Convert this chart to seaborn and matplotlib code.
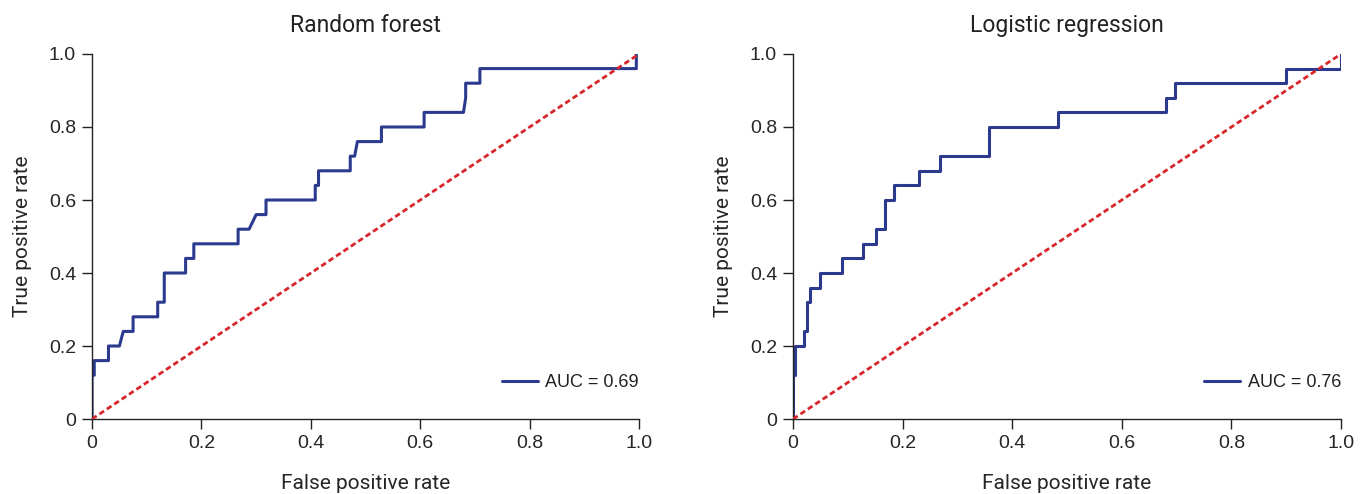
import numpy as np
import pandas as pd
import matplotlib
matplotlib.use("Agg")
import matplotlib.pyplot as plt
import seaborn as sns

# ROC curves
rf_fpr = [0, 0, 0.004, 0.004, 0.030, 0.030, 0.050, 0.057, 0.075, 0.075, 0.120, 0.120,
          0.132, 0.132, 0.171, 0.171, 0.186, 0.186, 0.267, 0.267, 0.287, 0.300, 0.318,
          0.318, 0.408, 0.408, 0.414, 0.414, 0.472, 0.472, 0.480, 0.485, 0.529, 0.529,
          0.607, 0.607, 0.679, 0.683, 0.683, 0.709, 0.709, 0.995, 0.995]
rf_tpr = [0, 0.12, 0.12, 0.16, 0.16, 0.20, 0.20, 0.24, 0.24, 0.28, 0.28, 0.32,
          0.32, 0.40, 0.40, 0.44, 0.44, 0.48, 0.48, 0.52, 0.52, 0.56, 0.56,
          0.60, 0.60, 0.64, 0.64, 0.68, 0.68, 0.72, 0.72, 0.76, 0.76, 0.80,
          0.80, 0.84, 0.84, 0.88, 0.92, 0.92, 0.96, 0.96, 1.0]

lr_fpr = [0, 0, 0.004, 0.004, 0.020, 0.020, 0.025, 0.025, 0.031, 0.031, 0.049, 0.049,
          0.089, 0.089, 0.127, 0.127, 0.151, 0.151, 0.167, 0.167, 0.185, 0.185,
          0.229, 0.229, 0.269, 0.269, 0.358, 0.358, 0.484, 0.484, 0.681, 0.681,
          0.697, 0.697, 0.900, 0.900, 1.0, 1.0]
lr_tpr = [0, 0.12, 0.12, 0.20, 0.20, 0.24, 0.24, 0.32, 0.32, 0.36, 0.36, 0.40,
          0.40, 0.44, 0.44, 0.48, 0.48, 0.52, 0.52, 0.60, 0.60, 0.64,
          0.64, 0.68, 0.68, 0.72, 0.72, 0.80, 0.80, 0.84, 0.84, 0.88,
          0.88, 0.92, 0.92, 0.96, 0.96, 1.0]

titles = ["Random forest", "Logistic regression"]
aucs = [0.69, 0.76]
ticks = [0, 0.2, 0.4, 0.6, 0.8, 1.0]
tick_labels = ["0", "0.2", "0.4", "0.6", "0.8", "1.0"]

sns.set_style("ticks")
plt.rcParams["font.family"] = ["Roboto", "DejaVu Sans"]
plt.rcParams["text.color"] = "#222222"
num_font = ["Liberation Sans", "DejaVu Sans"]

fig = plt.figure(figsize=(13.72, 4.94), dpi=100)
axes = [fig.add_axes([0.0671, 0.1518, 0.3987, 0.7389]),
        fig.add_axes([0.5780, 0.1518, 0.3994, 0.7389])]

curves = [(rf_fpr, rf_tpr), (lr_fpr, lr_tpr)]
for ax, (fpr, tpr), title, auc in zip(axes, curves, titles, aucs):
    df = pd.DataFrame({"fpr": fpr, "tpr": tpr})
    sns.lineplot(data=df, x="fpr", y="tpr", sort=False, estimator=None, ax=ax,
                 color="#2B3A8F", lw=2.2, label=f"AUC = {auc:.2f}")
    ax.plot([0, 1], [0, 1], color="#D7262B", lw=2, ls=(0, (2, 1.2)), zorder=3)
    ax.set_xlim(0, 1)
    ax.set_ylim(0, 1)
    ax.set_xticks(ticks)
    ax.set_xticklabels(tick_labels, fontsize=14, family=num_font)
    ax.set_yticks(ticks)
    ax.set_yticklabels(tick_labels, fontsize=14, family=num_font)
    ax.tick_params(length=7, width=1, color="#222222", pad=4.5)
    ax.set_title(title, fontsize=16.5, pad=16)
    ax.set_xlabel("False positive rate", fontsize=15, labelpad=16)
    ax.set_ylabel("True positive rate", fontsize=15, labelpad=12)
    for s in ["left", "bottom"]:
        ax.spines[s].set_color("#222222")
        ax.spines[s].set_linewidth(1)
    sns.despine(ax=ax)
    ax.legend(loc="center right", frameon=False, handlelength=2.0,
              handletextpad=0.4, borderaxespad=0, borderpad=0,
              bbox_to_anchor=(1.0, 0.099),
              prop={"family": num_font, "size": 13})

fig.savefig("out.png", dpi=100, facecolor="white")
